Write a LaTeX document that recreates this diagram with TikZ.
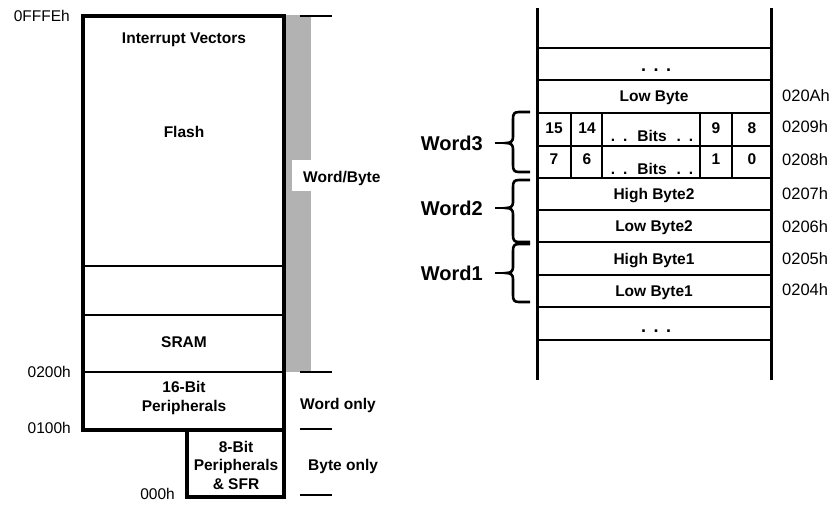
\documentclass[tikz,border=0pt]{standalone}
\usepackage{fontspec}
\setmainfont{Liberation Sans}
\definecolor{bargray}{RGB}{178,178,178}
\newcommand{\wbrace}[3]{%
  \draw[bracestyle] (530,#1) -- (519,#1) .. controls (514,#1) and (513,{#1+2}) .. (513,{#1+7})
    -- (513,{#2-6}) .. controls (513,{#2-2}) and (511,#2) .. (506,#2)
    .. controls (511,#2) and (513,{#2+2}) .. (513,{#2+6})
    -- (513,{#3-7}) .. controls (513,{#3-2}) and (514,#3) .. (519,#3) -- (530,#3);}
\begin{document}
\begin{tikzpicture}[x=1pt,y=-1pt,
  lbl/.style={font=\fontsize{15.5}{18.5}\selectfont\bfseries, align=center, inner sep=0pt},
  one/.style={lbl, text height=11pt, text depth=0pt},
  addr/.style={font=\fontsize{15.5}{17}\selectfont, inner sep=0pt, text height=11pt, text depth=0pt},
  raddr/.style={addr, font=\fontsize{16.5}{18}\selectfont, anchor=west},
  wordlbl/.style={font=\fontsize{20}{22}\selectfont\bfseries, inner sep=0pt, anchor=east, text height=14.5pt, text depth=0pt},
  heavy/.style={line width=4pt},
  thinline/.style={line width=2pt},
  tick/.style={line width=2.5pt},
  bracestyle/.style={line width=2.6pt},
  wall/.style={line width=3pt},
  row/.style={line width=2pt},
  rowthick/.style={line width=2.6pt}]
\useasboundingbox (0,0) rectangle (834,504);
% ---------- left memory map ----------
\fill[bargray] (285,15) rectangle (311,372);
\fill[white] (292,160) rectangle (311,191);
\node[one, anchor=west] (wb) at (303,177) {Word/Byte};
\draw[thinline] (83,266) -- (284,266);
\draw[thinline] (83,315) -- (284,315);
\draw[thinline] (83,372) -- (284,372);
\draw[heavy] (83,16) rectangle (284,430);
\draw[heavy] (187,430) rectangle (284,497);
\draw[tick] (300,16) -- (332,16);
\draw[tick] (300,372) -- (332,372);
\draw[tick] (300,429) -- (332,429);
\draw[tick] (300,495) -- (332,495);
\node[one] (iv) at (184,38) {Interrupt Vectors};
\node[one] (fl) at (184,132) {Flash};
\node[one] (sr) at (184,342) {SRAM};
\node[lbl] (p16) at (184,398) {16-Bit\\Peripherals};
\node[lbl] (p8) at (236,465) {8-Bit\\Peripherals\\\& SFR};
\node[one, anchor=west] (wo) at (300,404) {Word only};
\node[one, anchor=west] (bo) at (308,465) {Byte only};
\node[addr, anchor=east] (a1) at (70,16) {0FFFEh};
\node[addr, anchor=east] (a2) at (71,372) {0200h};
\node[addr, anchor=east] (a3) at (71,428) {0100h};
\node[addr, anchor=east] (a4) at (175,494) {000h};
% ---------- right word/byte layout ----------
\draw[row] (537,48) -- (771,48);
\draw[rowthick] (537,80) -- (771,80);
\draw[rowthick] (537,113) -- (771,113);
\draw[row] (537,146) -- (771,146);
\draw[rowthick] (537,178) -- (771,178);
\draw[row] (537,210) -- (771,210);
\draw[rowthick] (537,242) -- (771,242);
\draw[row] (537,275) -- (771,275);
\draw[row] (537,307) -- (771,307);
\draw[rowthick] (537,340) -- (771,340);
\foreach \cx in {571,602,700,732} \draw[row] (\cx,113) -- (\cx,178);
\draw[wall] (537,8) -- (537,380);
\draw[wall] (771,8) -- (771,380);
\node[lbl, font=\fontsize{18}{18}\selectfont\bfseries] (dt) at (656,70) {.\hspace{7.5pt}.\hspace{7.5pt}.};
\node[lbl, font=\fontsize{18}{18}\selectfont\bfseries] (db) at (656,331) {.\hspace{7.5pt}.\hspace{7.5pt}.};
\node[one] (lb) at (654,96) {Low Byte};
\node[one] (hb2) at (654,194) {High Byte2};
\node[one] (lb2) at (654,226) {Low Byte2};
\node[one] (hb1) at (654,259) {High Byte1};
\node[one] (lb1) at (654,291) {Low Byte1};
\node[one] (b15) at (554,128) {15};
\node[one] (b14) at (587,128) {14};
\node[one] (b9) at (716,128) {9};
\node[one] (b8) at (752,128) {8};
\node[one] (b7) at (554,159) {7};
\node[one] (b6) at (587,159) {6};
\node[one] (b1) at (716,159) {1};
\node[one] (b0) at (752,159) {0};
\node[one] (bh) at (652,136) {.\hspace{8pt}.\hspace{10pt}Bits\hspace{10pt}.\hspace{8pt}.};
\node[one] (bl) at (652,169) {.\hspace{8pt}.\hspace{10pt}Bits\hspace{10pt}.\hspace{8pt}.};
\node[raddr] (r1) at (782,96) {020Ah};
\node[raddr] (r2) at (782,127) {0209h};
\node[raddr] (r3) at (782,160) {0208h};
\node[raddr] (r4) at (782,194) {0207h};
\node[raddr] (r5) at (782,227) {0206h};
\node[raddr] (r6) at (782,259) {0205h};
\node[raddr] (r7) at (782,290) {0204h};
% braces and word labels
\wbrace{112}{143}{172}
\wbrace{180}{208}{242}
\wbrace{244}{273}{302}
\node[wordlbl] (w3) at (483,143) {Word3};
\node[wordlbl] (w2) at (483,208) {Word2};
\node[wordlbl] (w1) at (483,273) {Word1};
\coordinate (t3) at (506,143);
\coordinate (t2) at (506,208);
\coordinate (t1) at (506,273);
\draw[bracestyle] ([xshift=12pt]w3.east) -- (t3);
\draw[bracestyle] ([xshift=12pt]w2.east) -- (t2);
\draw[bracestyle] ([xshift=12pt]w1.east) -- (t1);
\end{tikzpicture}
\end{document}
